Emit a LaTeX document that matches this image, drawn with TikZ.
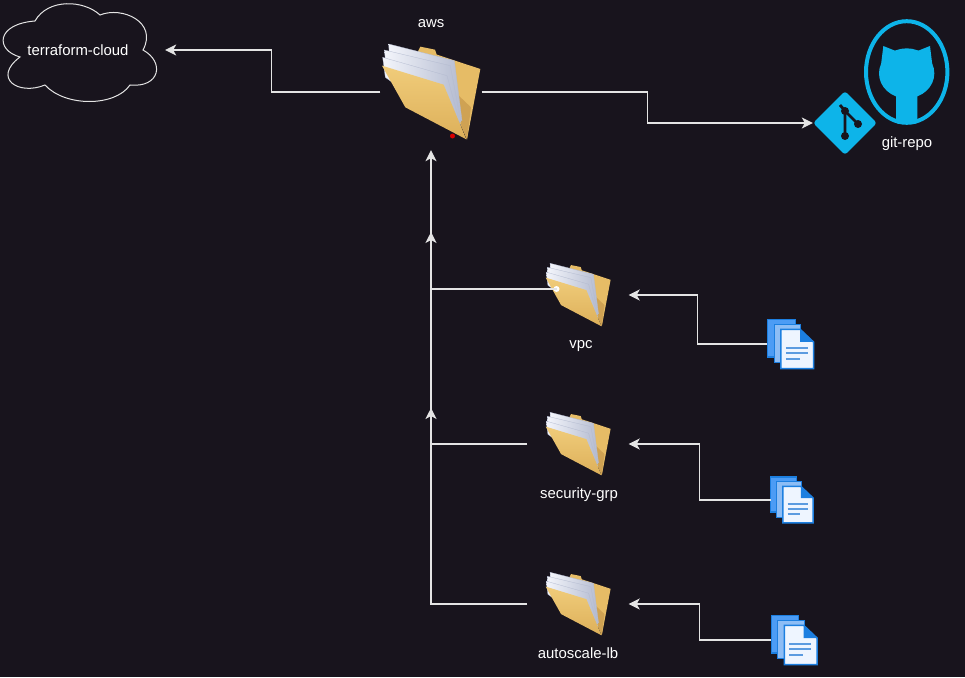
\documentclass[tikz,border=0pt]{standalone}
\usepackage{fontspec}
\setmainfont{Liberation Sans}
\usepackage{tikz}
\usetikzlibrary{arrows.meta,positioning,calc,shapes.geometric}

\definecolor{bgdark}{HTML}{18141D}
\definecolor{wire}{HTML}{E4E4E4}
\definecolor{gitblue}{HTML}{0DB4E9}
\definecolor{docblue}{HTML}{1C7FE0}
\definecolor{folderback}{HTML}{E6BC66}
\definecolor{folderdark}{HTML}{CFA253}
\definecolor{folderlight}{HTML}{F0CC7A}
\definecolor{folderfront}{HTML}{DDB05A}
\definecolor{papertop}{HTML}{F3F5FB}
\definecolor{paperedge}{HTML}{B4BBD0}
\definecolor{docback}{HTML}{4C9CF5}
\definecolor{docmid}{HTML}{8DBDF5}
\definecolor{docpage}{HTML}{EEF5FF}
\definecolor{docline}{HTML}{5B9BE0}

\tikzset{
  sheet/.style={left color=papertop, right color=paperedge, draw=paperedge, line width=0.3pt},
  folder/.pic={
    \fill[folderback] (172,124) -- (180,108) -- (224,117) -- (232,140) -- cycle;
    \fill[folderback] (230,132) -- (360,175) -- (320,386) -- (250,225) -- cycle;
    \fill[folderdark] (290,250) -- (303,345) -- (320,386) -- (332,290) -- cycle;
    \shadedraw[sheet] (85,100) -- (282,150) -- (305,330) -- (200,270) -- (90,180) -- cycle;
    \shadedraw[sheet] (72,118) -- (270,165) -- (302,335) -- (200,280) -- (80,190) -- cycle;
    \shadedraw[sheet] (67,140) -- (260,195) -- (302,350) -- (200,290) -- (75,200) -- cycle;
    \shade[top color=folderlight,bottom color=folderfront]
      (65,165) -- (250,222) -- (318,386) -- (135,290) -- cycle;
  },
  octocat/.pic={
    \fill[gitblue] (320,190) ellipse (83 and 75);
    \fill[gitblue] (250,108) -- (295,126) -- (243,165) -- cycle;
    \fill[gitblue] (390,108) -- (345,126) -- (397,165) -- cycle;
    \fill[gitblue,rounded corners=3pt] (288,342) -- (288,240) -- (352,240) -- (352,342) -- cycle;
  },
  docstack/.pic={
    \draw[docblue,fill=docback,line width=1.3pt] (53,42) rectangle (135,155);
    \draw[docblue,fill=docmid,line width=1.3pt] (72,57) rectangle (152,172);
    \draw[docblue,fill=docpage,line width=1.5pt] (92,72) -- (150,72) -- (190,110) -- (190,190) -- (92,190) -- cycle;
    \fill[docblue] (150,72) -- (190,110) -- (150,110) -- cycle;
    \foreach \ly/\lx in {128/172,144/172,160/148}
      \draw[docline,line width=2.2pt] (107,\ly) -- (\lx,\ly);
  }
}

\begin{document}
\begin{tikzpicture}[
  x=1pt, y=-1pt,
  iconbox/.style={inner sep=0pt, minimum width=101pt, minimum height=116pt},
  docbox/.style={inner sep=0pt, minimum width=46pt, minimum height=50pt},
  lbl/.style={text=white, inner sep=1pt, font=\fontsize{14.9}{16}\selectfont},
  arr/.style={-{Stealth[length=11pt,width=11pt,inset=3pt]}, wire, line width=1.2pt},
  pinned/.style={circle, fill=#1, inner sep=0pt, minimum size=6pt}
]
  \fill[bgdark] (0,0) rectangle (965,677);
  \useasboundingbox (0,0) rectangle (965,677);

  % cloud
  \draw[wire, line width=1pt, fill=bgdark] (35,21)
    .. controls (48,-2) and (84,0) .. (100,15)
    .. controls (122,6) and (158,22) .. (143,50)
    .. controls (165,62) and (160,88) .. (130,85)
    .. controls (115,107) and (65,107) .. (45,85)
    .. controls (18,96) and (-8,78) .. (20,57)
    .. controls (-5,50) and (-4,24) .. (35,21) -- cycle;
  \node[lbl, minimum width=174pt] (tfcloud) at (78,50) {terraform-cloud};

  % folders
  \node[iconbox] (aws) at (431,92) {};
  \node[iconbox] (vpc) at (578,295) {};
  \node[iconbox] (secgrp) at (578,444) {};
  \node[iconbox] (autolb) at (578,604) {};
  \pic[scale=0.3333] at ($(aws.center)-(70.67,81.33)$) {folder};
  \pic[scale=0.22] at ($(vpc.center)-(46.6,53.7)$) {folder};
  \pic[scale=0.22] at ($(secgrp.center)-(46.6,53.7)$) {folder};
  \pic[scale=0.22] at ($(autolb.center)-(46.6,53.7)$) {folder};

  \node[lbl] (awslbl) at (431,24) {aws};
  \node[lbl] (vpclbl) at (581,346) {vpc};
  \node[lbl] (seclbl) at (579,495) {security-grp};
  \node[lbl] (autolbl) at (578,653) {autoscale-lb};

  % git
  \draw[gitblue, line width=4pt] (906.7,72) ellipse (40.7 and 50.8);
  \pic[scale=0.3333] at (800,10) {octocat};
  \node[diamond, fill=gitblue, inner sep=0pt, minimum size=64pt, rounded corners=3pt] (gitlogo) at (845,123) {};
  \draw[bgdark, line width=2.8pt] (840,105) -- (845,111) -- (845,136);
  \draw[bgdark, line width=2.8pt] (845,111) -- (858,124);
  \fill[bgdark] (845,111) circle (4) (858,124) circle (4) (845,136) circle (4);
  \node[lbl] (gitlbl) at (907,144) {git-repo};

  % files
  \node[docbox] (vpcdocs) at (790.5,344) {};
  \node[docbox, minimum width=42pt, minimum height=46pt] (secdocs) at (792,500) {};
  \node[docbox] (autodocs) at (794,640) {};
  \pic[scale=0.3333] at ($(vpcdocs.center)-(40.33,38.67)$) {docstack};
  \pic[scale=0.31] at ($(secdocs.center)-(37.67,35.96)$) {docstack};
  \pic[scale=0.3333] at ($(autodocs.center)-(40.33,38.67)$) {docstack};

  % dots
  \node[pinned=white] (vpcdot) at (556.5,289) {};
  \node[pinned=red!85!black, minimum size=5pt] (awsdot) at (452.5,136) {};

  % wires
  \coordinate (mid1) at (431,232);
  \coordinate (mid2) at (431,408);
  \draw[arr] (aws.west) -- ++(-109,0) |- (tfcloud.east);
  \draw[arr] (aws.east) -- ++(166,0) |- (gitlogo.west);
  \draw[arr] (vpcdot.center) -| (aws.south);
  \draw[arr] (secgrp.west) -| (mid1);
  \draw[arr] (autolb.west) -| (mid2);
  \draw[arr] (vpcdocs.west) -- ++(-70,0) |- (vpc.east);
  \draw[arr] (secdocs.west) -- ++(-71,0) |- (secgrp.east);
  \draw[arr] (autodocs.west) -- ++(-71,0) |- (autolb.east);
\end{tikzpicture}
\end{document}
